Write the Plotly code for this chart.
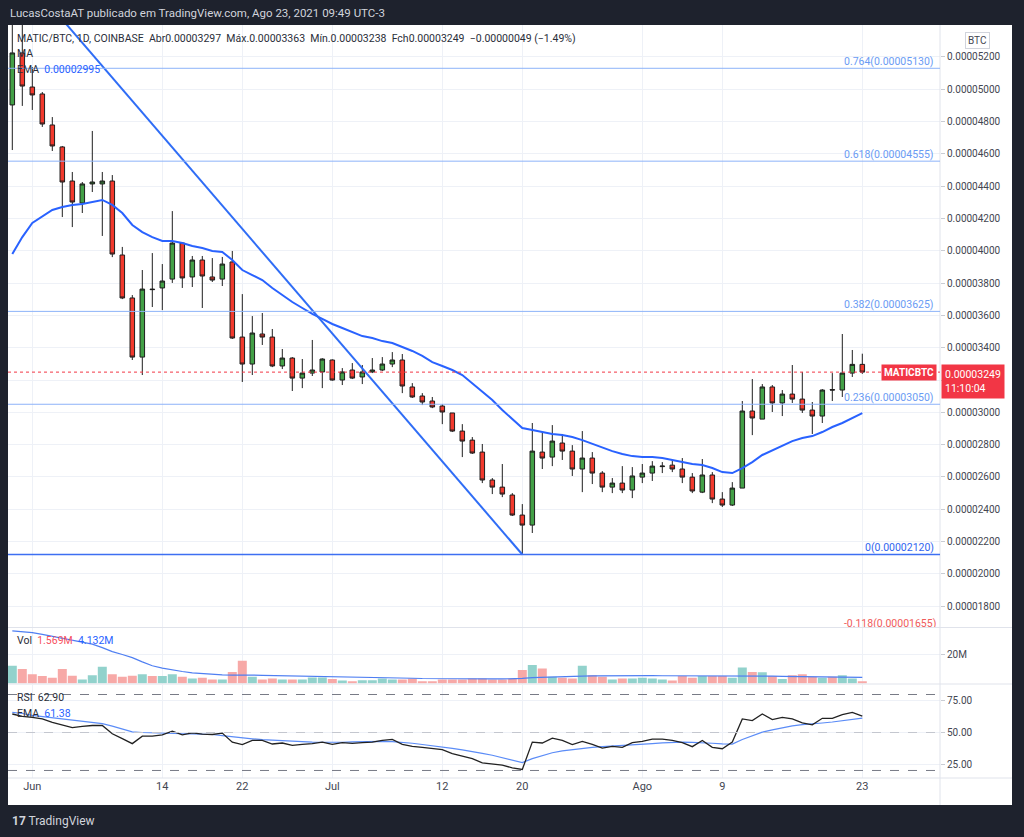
import plotly.graph_objects as go
import pandas as pd

# ---------------- data (prices in units of 0.00000001 BTC) ----------------
start_date = "2021-05-30"
n_days = 86

open_ = [4903, 5225, 5014, 4971, 4779, 4643, 4432, 4296, 4414, 4414,
         4432, 3974, 3708, 3342, 3763, 3770, 3825, 4048, 3838, 3943,
         3838, 3825, 3931, 3466, 3299, 3485, 3466, 3287, 3336, 3212,
         3243, 3250, 3324, 3200, 3262, 3219, 3250, 3262, 3299, 3324,
         3157, 3101, 3070, 3039, 2996, 2884, 2828, 2754, 2581, 2537,
         2488, 2364, 2302, 2754, 2723, 2810, 2760, 2649, 2717, 2624,
         2537, 2562, 2519, 2599, 2624, 2664, 2673, 2649, 2599, 2506,
         2612, 2463, 2426, 2531, 3008, 2958, 3157, 3058, 3113, 3082,
         3014, 2977, 3141, 3138, 3243, 3297]
high = [5480, 5420, 5138, 4983, 4828, 4649, 4488, 4426, 4742, 4488,
        4469, 4024, 3726, 3881, 3986, 3918, 4246, 4054, 3968, 3968,
        3955, 3962, 3999, 3732, 3596, 3615, 3516, 3392, 3342, 3330,
        3448, 3335, 3328, 3274, 3305, 3293, 3336, 3342, 3373, 3361,
        3181, 3119, 3095, 3051, 2996, 2927, 2847, 2804, 2593, 2680,
        2500, 2432, 2934, 2878, 2921, 2866, 2797, 2884, 2754, 2636,
        2593, 2667, 2661, 2680, 2698, 2692, 2705, 2717, 2624, 2711,
        2630, 2506, 2568, 3070, 3206, 3175, 3169, 3138, 3293, 3250,
        3064, 3144, 3243, 3485, 3386, 3363]
low = [4624, 4897, 4872, 4767, 4618, 4209, 4147, 4234, 4364, 4092,
       3961, 3701, 3324, 3231, 3652, 3633, 3801, 3770, 3776, 3646,
       3807, 3782, 3454, 3188, 3231, 3417, 3280, 3268, 3132, 3150,
       3225, 3150, 3196, 3169, 3206, 3175, 3243, 3256, 3280, 3119,
       3089, 3045, 3026, 2927, 2878, 2723, 2742, 2562, 2494, 2475,
       2358, 2120, 2253, 2649, 2667, 2705, 2606, 2506, 2556, 2506,
       2500, 2500, 2469, 2562, 2575, 2624, 2630, 2562, 2500, 2500,
       2438, 2414, 2420, 2531, 2859, 2958, 3002, 2977, 3058, 2996,
       2866, 2934, 3070, 3095, 3219, 3238]
close = [5225, 5020, 4965, 4785, 4649, 4426, 4302, 4414, 4426, 4432,
         3980, 3708, 3342, 3763, 3760, 3813, 4048, 3832, 3943, 3844,
         3819, 3918, 3460, 3299, 3491, 3466, 3287, 3336, 3212, 3243,
         3262, 3330, 3200, 3250, 3212, 3250, 3262, 3299, 3324, 3163,
         3095, 3064, 3033, 3002, 2884, 2822, 2748, 2581, 2537, 2494,
         2364, 2302, 2760, 2717, 2822, 2760, 2649, 2717, 2624, 2537,
         2562, 2519, 2606, 2624, 2667, 2667, 2649, 2599, 2513, 2612,
         2463, 2426, 2531, 3008, 2965, 3157, 3058, 3113, 3082, 3014,
         2977, 3138, 3138, 3243, 3297, 3249]
ema20 = [3980, 4085, 4172, 4215, 4253, 4271, 4284, 4290, 4302, 4315,
         4284, 4234, 4160, 4116, 4085, 4061, 4061, 4048, 4030, 4017,
         3999, 3993, 3943, 3881, 3850, 3819, 3770, 3726, 3683, 3646,
         3609, 3578, 3547, 3522, 3497, 3472, 3460, 3441, 3429, 3404,
         3380, 3349, 3311, 3287, 3262, 3231, 3181, 3126, 3076, 3014,
         2958, 2903, 2890, 2878, 2866, 2859, 2847, 2828, 2804, 2785,
         2760, 2742, 2729, 2723, 2723, 2717, 2705, 2692, 2680, 2674,
         2655, 2630, 2624, 2655, 2692, 2736, 2766, 2797, 2822, 2841,
         2853, 2878, 2909, 2934, 2965, 2995]
volume_m = [12.2, 9.9, 6.4, 5.1, 3.9, 9.9, 5.3, 2.8, 5.7, 11.5,
            6.4, 4.6, 5.3, 6.4, 5.1, 5.1, 6.4, 4.6, 3.4, 3.9,
            2.8, 2.8, 7.8, 15.6, 4.6, 2.8, 3.4, 2.8, 2.8, 2.8,
            4.1, 4.1, 3.0, 2.1, 1.6, 2.3, 2.3, 3.4, 2.8, 2.8,
            3.4, 1.6, 1.6, 2.8, 2.8, 2.8, 3.4, 3.4, 2.8, 2.8,
            3.4, 9.2, 12.6, 10.3, 4.6, 3.9, 3.4, 12.2, 5.7, 4.6,
            2.8, 3.4, 3.4, 3.9, 3.4, 2.8, 2.1, 5.1, 3.9, 5.1,
            5.1, 5.1, 3.9, 11.0, 7.8, 7.6, 5.1, 3.0, 5.7, 6.4,
            4.6, 3.9, 4.6, 5.7, 3.4, 1.569]
vol_ma_m = [36.0, 35.4, 34.7, 33.5, 32.1, 30.6, 29.2, 28.0, 26.9, 24.5,
            21.8, 19.8, 17.7, 14.8, 12.1, 10.5, 9.2, 8.2, 7.3, 6.7,
            6.2, 5.9, 5.7, 5.9, 5.8, 5.6, 5.5, 5.3, 5.1, 5.0,
            4.9, 4.8, 4.6, 4.5, 4.3, 4.2, 4.0, 3.9, 3.8, 3.7,
            3.6, 3.4, 3.3, 3.2, 3.1, 3.0, 3.0, 3.0, 3.1, 3.1,
            3.2, 3.5, 4.0, 4.3, 4.5, 4.6, 4.7, 5.1, 5.2, 5.3,
            5.3, 5.3, 5.4, 5.4, 5.4, 5.3, 5.3, 5.4, 5.4, 5.5,
            5.5, 5.5, 5.4, 5.5, 5.3, 5.2, 5.0, 4.9, 4.8, 4.8,
            4.7, 4.6, 4.6, 4.5, 4.4, 4.132]
rsi = [64.6, 62.7, 62.0, 60.7, 58.0, 56.0, 53.9, 54.9, 55.5, 55.5,
       49.0, 45.1, 41.2, 47.1, 47.1, 48.2, 51.0, 48.2, 49.7, 48.7,
       48.4, 49.5, 42.4, 40.4, 43.7, 43.7, 40.9, 41.7, 39.8, 40.6,
       41.2, 42.4, 40.6, 42.0, 41.4, 42.0, 42.4, 43.7, 44.5, 40.6,
       39.1, 38.3, 37.5, 36.5, 33.4, 31.5, 29.4, 26.0, 25.2, 24.2,
       22.1, 20.8, 42.4, 41.7, 45.5, 43.7, 40.4, 43.0, 40.6, 37.7,
       39.1, 38.3, 42.0, 43.0, 44.8, 44.8, 43.7, 42.0, 38.8, 43.7,
       38.3, 37.2, 42.4, 60.7, 59.4, 64.6, 60.2, 62.0, 60.7, 57.6,
       56.0, 61.2, 61.2, 64.1, 65.9, 62.9]
rsi_ema = [65.9, 65.0, 63.5, 62.5, 61.5, 60.5, 59.6, 58.8, 58.0, 57.0,
           55.0, 52.5, 50.5, 50.0, 49.6, 49.3, 49.1, 49.0, 48.9, 48.7,
           48.4, 47.5, 46.5, 45.6, 45.0, 44.3, 43.8, 43.3, 42.9, 42.5,
           42.4, 42.3, 42.2, 42.3, 42.6, 42.9, 43.0, 43.0, 42.8, 42.3,
           41.5, 40.5, 39.6, 38.6, 37.4, 36.2, 35.0, 33.5, 32.0, 30.2,
           28.3, 26.3, 29.4, 31.8, 34.0, 35.5, 36.6, 37.5, 38.2, 38.8,
           39.2, 39.5, 40.0, 40.5, 41.2, 41.8, 42.2, 42.4, 42.2, 42.0,
           41.5, 41.0, 40.8, 44.5, 47.5, 50.3, 52.0, 53.8, 55.2, 56.2,
           56.6, 57.5, 58.3, 59.2, 60.3, 61.38]

trend_dates = ["2021-05-30", "2021-07-20"]
trend_prices = [5792, 2120]

fib_levels = [5130, 4555, 3625, 3050, 2120, 1655]
fib_labels = ["0.764(0.00005130)", "0.618(0.00004555)", "0.382(0.00003625)",
              "0.236(0.00003050)", "0(0.00002120)", "-0.118(0.00001655)"]

price_ticks = list(range(1800, 5201, 200))
hidden_ticks = [3200]  # covered by the last-price label
x_tick_dates = ["2021-06-01", "2021-06-14", "2021-06-22", "2021-07-01", "2021-07-12",
                "2021-07-20", "2021-08-01", "2021-08-09", "2021-08-23"]
x_tick_text = ["Jun", "14", "22", "Jul", "12", "20", "Ago", "9", "23"]

last_price = 3249

# ---------------- geometry helpers ----------------
W, H = 1024, 837
def px(x):
    return x / W
def py(y):
    return 1 - y / H

dates = pd.date_range(start_date, periods=n_days, freq="D")
t0 = pd.Timestamp(start_date)
x_range = [t0 - pd.Timedelta(days=0.43), t0 + pd.Timedelta(days=92.77)]
label_x = t0 + pd.Timedelta(days=92.4)   # right edge where fib labels end

X_DOM = [px(8), px(940)]
Y_MAIN = [py(627), py(25)]
Y_VOL = [py(683.5), py(628)]
Y_RSI = [py(778), py(685)]

GREEN = "#43a047"
RED = "#f23a2e"
EDGE = "#1e1e1e"
BLUE = "#2962ff"
FONT = "Roboto"
TXT = "#2a2e39"
AX = "#434651"
GRID = "#eef1f7"

vol_colors = ["#92d2cc" if c >= o else "#f7a9a7" for o, c in zip(open_, close)]

fig = go.Figure()
fig.add_trace(go.Candlestick(
    x=dates, open=open_, high=high, low=low, close=close,
    xaxis="x", yaxis="y", whiskerwidth=0,
    increasing=dict(fillcolor=GREEN, line=dict(color=EDGE, width=1)),
    decreasing=dict(fillcolor=RED, line=dict(color=EDGE, width=1)),
    showlegend=False, hoverinfo="skip"))
fig.add_trace(go.Scatter(x=dates, y=ema20, mode="lines", xaxis="x", yaxis="y",
                         line=dict(color=BLUE, width=2), showlegend=False, hoverinfo="skip"))
fig.add_trace(go.Scatter(x=trend_dates, y=trend_prices, mode="lines", xaxis="x", yaxis="y",
                         line=dict(color="#2f6df6", width=2), showlegend=False, hoverinfo="skip"))
# the -0.118 label sits below the visible range: draw it as clipped text
fig.add_trace(go.Scatter(x=[label_x], y=[fib_levels[5]], mode="text", text=[fib_labels[5]],
                         textposition="top left", cliponaxis=True,
                         textfont=dict(family=FONT, size=10.5, color="#f05b5b"),
                         xaxis="x", yaxis="y", showlegend=False, hoverinfo="skip"))
fig.add_trace(go.Bar(x=dates, y=volume_m, xaxis="x2", yaxis="y2",
                     marker=dict(color=vol_colors, line=dict(width=0)),
                     showlegend=False, hoverinfo="skip"))
fig.add_trace(go.Scatter(x=dates, y=vol_ma_m, mode="lines", xaxis="x2", yaxis="y2",
                         line=dict(color="#4f7ff2", width=1.2), showlegend=False, hoverinfo="skip"))
fig.add_trace(go.Scatter(x=dates, y=rsi_ema, mode="lines", xaxis="x3", yaxis="y3",
                         line=dict(color="#5b8cf7", width=1.2), showlegend=False, hoverinfo="skip"))
fig.add_trace(go.Scatter(x=dates, y=rsi, mode="lines", xaxis="x3", yaxis="y3",
                         line=dict(color="#222222", width=1.3), showlegend=False, hoverinfo="skip"))

xcommon = dict(type="date", range=x_range, domain=X_DOM, tickvals=x_tick_dates,
               ticktext=x_tick_text, showgrid=True, gridcolor=GRID, gridwidth=1,
               zeroline=False, showline=False, ticks="", fixedrange=True)
ycommon = dict(side="right", showgrid=True, gridcolor=GRID, zeroline=False, showline=False,
               ticks="outside", ticklen=4, tickcolor="#c9ccd3",
               tickfont=dict(family=FONT, size=10, color=AX), fixedrange=True)

fig.update_layout(
    width=W, height=H, margin=dict(l=0, r=0, t=0, b=0),
    paper_bgcolor="#1e222d", plot_bgcolor="white",
    hovermode=False, showlegend=False, bargap=0.1, boxgap=0.35,
    font=dict(family=FONT, color=TXT),
    xaxis=dict(**xcommon, anchor="y", showticklabels=False, rangeslider=dict(visible=False)),
    xaxis2=dict(**xcommon, anchor="y2", matches="x", showticklabels=False),
    xaxis3=dict(**xcommon, anchor="y3", matches="x", showticklabels=True,
                tickfont=dict(family=FONT, size=11, color=AX)),
    yaxis=dict(**ycommon, anchor="x", domain=Y_MAIN, range=[1671, 5398],
               tickvals=price_ticks,
               ticktext=["" if v in hidden_ticks else f"{v/1e8:.8f}" for v in price_ticks]),
    yaxis2=dict(**ycommon, anchor="x2", domain=Y_VOL, range=[0, 37.9],
                tickvals=[20], ticktext=["20M"]),
    yaxis3=dict(**ycommon, anchor="x3", domain=Y_RSI, range=[14.06, 87.5],
                tickvals=[25, 50, 75], ticktext=["25.00", "50.00", "75.00"]),
)

shapes = []
# white chart card
shapes.append(dict(type="rect", xref="paper", yref="paper", x0=px(8), x1=px(1012),
                   y0=py(805), y1=py(25), fillcolor="white", line=dict(width=0), layer="below"))
# separators
sep = "#e0e3eb"
for yy in (627.5, 684, 778):
    shapes.append(dict(type="line", xref="paper", yref="paper", x0=px(8), x1=px(1012),
                       y0=py(yy), y1=py(yy), line=dict(color=sep, width=1)))
shapes.append(dict(type="line", xref="paper", yref="paper", x0=px(940), x1=px(940),
                   y0=py(805), y1=py(25), line=dict(color=sep, width=1)))
# fib lines
for lv in fib_levels[:4]:
    shapes.append(dict(type="line", xref="x domain", yref="y", x0=0, x1=1, y0=lv, y1=lv,
                       line=dict(color="#8db3f9", width=1)))
shapes.append(dict(type="line", xref="x domain", yref="y", x0=0, x1=1,
                   y0=fib_levels[4], y1=fib_levels[4], line=dict(color="#3d6ff2", width=1.5)))
# last price dotted
shapes.append(dict(type="line", xref="x domain", yref="y", x0=0, x1=1, y0=last_price,
                   y1=last_price, line=dict(color="#f23645", width=1, dash="dot")))
# RSI bands
for lv, col in ((80, "#787b86"), (20, "#787b86"), (50, "#c4c7cf")):
    shapes.append(dict(type="line", xref="x3 domain", yref="y3", x0=0, x1=1, y0=lv, y1=lv,
                       line=dict(color=col, width=1, dash="dash")))
fig.update_layout(shapes=shapes)

ann = []
def add_text(x, y, text, size=10.5, color=TXT, xanchor="left", yanchor="middle", **kw):
    ann.append(dict(xref="paper", yref="paper", x=px(x), y=py(y), text=text, showarrow=False,
                    xanchor=xanchor, yanchor=yanchor,
                    font=dict(family=FONT, size=size, color=color), **kw))

nb = "\u00a0"
add_text(8, 13, "LucasCostaAT publicado em TradingView.com, Ago 23, 2021 09:49 UTC-3",
         size=11.5, color="#d1d4dc")
add_text(15, 38, f"MATIC/BTC, 1D, COINBASE{nb*2}Abr0.00003297{nb*2}Máx.0.00003363{nb*2}"
                 f"Mín.0.00003238{nb*2}Fch0.00003249{nb*2}−0.00000049 (−1.49%)", size=10.5)
add_text(15, 53, "MA", size=10.5)
add_text(15, 69, f"EMA{nb*2}<span style='color:{BLUE}'>0.00002995</span>", size=10.5)
add_text(15, 640, f"Vol{nb*2}<span style='color:#f7525f'>1.569M</span>{nb*2}"
                  f"<span style='color:{BLUE}'>4.132M</span>", size=10.5)
add_text(15, 697, f"RSI{nb*2}62.90", size=10.5)
add_text(15, 713, f"EMA{nb*2}<span style='color:{BLUE}'>61.38</span>", size=10.5)
add_text(10, 821, "<b>17</b> TradingView", size=12, color="#d1d4dc")

# fib labels (visible ones)
fib_colors = ["#6a9bf4"] * 4 + ["#2f64f0"]
for lv, lab, col in zip(fib_levels[:5], fib_labels[:5], fib_colors):
    ann.append(dict(xref="paper", yref="y", x=px(936), y=lv, text=lab, showarrow=False,
                    xanchor="right", yanchor="bottom", yshift=-2,
                    font=dict(family=FONT, size=10.5, color=col)))
# BTC box
add_text(977, 40, "BTC", size=10, color=AX, xanchor="center",
         bordercolor="#d1d4dc", borderwidth=1, borderpad=2, bgcolor="white")
# last price labels
ann.append(dict(xref="paper", yref="y", x=px(937), y=last_price, text="<b>MATICBTC</b>",
                showarrow=False, xanchor="right", yanchor="middle",
                font=dict(family=FONT, size=10, color="white"), bgcolor="#f23645", borderpad=2))
ann.append(dict(xref="paper", yref="y", x=px(941), y=last_price, text="0.00003249<br>11:10:04",
                showarrow=False, xanchor="left", yanchor="top", yshift=8, align="left",
                font=dict(family=FONT, size=10.5, color="white"), bgcolor="#f23645", borderpad=3))
fig.update_layout(annotations=ann)

fig.write_html("out.html",
               config={"displayModeBar": False, "staticPlot": True},
               post_script="document.body.style.margin='0px';"
                           "document.body.style.backgroundColor='#1e222d';"
                           "document.body.style.overflow='hidden';")
